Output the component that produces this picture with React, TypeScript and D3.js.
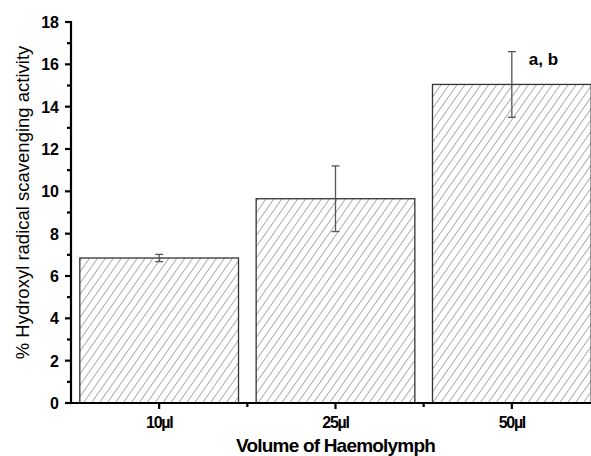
import React from "react";
import * as d3 from "d3";

const categories = ["10µl", "25µl", "50µl"];
const values = [6.85, 9.65, 15.05];
const errors = [0.17, 1.55, 1.55];
const yTicks = [0, 2, 4, 6, 8, 10, 12, 14, 16, 18];
const annotations = ["", "", "a, b"];

export default function App() {
  const W = 591, H = 456;
  const left = 71, right = 600, top = 22, bottom = 403;
  const x = d3.scaleBand<string>().domain(categories).range([left, right]).paddingInner(0.1).paddingOuter(0.05);
  const y = d3.scaleLinear().domain([0, 18]).range([bottom, top]);
  const minor = d3.range(1, 18, 2);
  const step = x.step();
  const boundaries = categories.slice(1).map((c) => (x(c) as number) - step * 0.1 / 2);
  const font = "'Liberation Sans', Arial, sans-serif";
  return (
    <svg width={W} height={H} style={{ position: "absolute", left: 0, top: 0, background: "#fff" }}>
      <defs>
        <pattern id="hatch" width="6.5" height="10" patternUnits="userSpaceOnUse" patternTransform="rotate(35)">
          <rect width="6.5" height="10" fill="#fff" />
          <line x1="0" y1="0" x2="0" y2="10" stroke="#444" strokeWidth="0.9" />
        </pattern>
      </defs>
      <rect x={0} y={0} width={W} height={H} fill="#fff" />
      {categories.map((c, i) => (
        <rect key={c} x={x(c)} y={y(values[i])} width={x.bandwidth()} height={bottom - y(values[i])}
          fill="url(#hatch)" stroke="#333" strokeWidth={1.3} />
      ))}
      {categories.map((c, i) => {
        const cx = (x(c) as number) + x.bandwidth() / 2;
        const y1 = y(values[i] + errors[i]);
        const y2 = y(values[i] - errors[i]);
        return (
          <g key={"e" + c} stroke="#555" strokeWidth={1.3}>
            <line x1={cx} x2={cx} y1={y1} y2={y2} />
            <line x1={cx - 4} x2={cx + 4} y1={y1} y2={y1} />
            <line x1={cx - 4} x2={cx + 4} y1={y2} y2={y2} />
          </g>
        );
      })}
      {categories.map((c, i) => annotations[i] ? (
        <text key={"a" + c} x={(x(c) as number) + x.bandwidth() / 2 + 17} y={y(values[i] + errors[i]) + 13}
          fontFamily={font} fontWeight="bold" fontSize={17}>{annotations[i]}</text>
      ) : null)}
      {/* axes */}
      <line x1={left} x2={left} y1={top - 1} y2={bottom + 1} stroke="#000" strokeWidth={2.2} />
      <line x1={left - 1} x2={right} y1={bottom} y2={bottom} stroke="#000" strokeWidth={2.2} />
      {yTicks.map((t) => (
        <g key={"yt" + t}>
          <line x1={left - 6} x2={left} y1={y(t)} y2={y(t)} stroke="#000" strokeWidth={2.2} />
          <text x={left - 12} y={y(t) + 6} textAnchor="end" fontFamily={font} fontWeight="bold" fontSize={16}>{t}</text>
        </g>
      ))}
      {minor.map((t) => (
        <line key={"ym" + t} x1={left - 4} x2={left} y1={y(t)} y2={y(t)} stroke="#000" strokeWidth={2.2} />
      ))}
      {categories.map((c) => {
        const cx = (x(c) as number) + x.bandwidth() / 2;
        return (
          <g key={"xt" + c}>
            <line x1={cx} x2={cx} y1={bottom} y2={bottom + 6} stroke="#000" strokeWidth={2.2} />
            <text x={cx} y={bottom + 25} textAnchor="middle" fontFamily={font} fontWeight="bold" fontSize={16} letterSpacing={-1.3}>{c}</text>
          </g>
        );
      })}
      {boundaries.map((b, i) => (
        <line key={"xb" + i} x1={b} x2={b} y1={bottom} y2={bottom + 4} stroke="#000" strokeWidth={2.2} />
      ))}
      <text x={(left + right) / 2} y={452} textAnchor="middle" fontFamily={font} fontWeight="bold" fontSize={19} letterSpacing={-0.8}>Volume of Haemolymph</text>
      <text transform={`translate(29, ${(top + bottom) / 2 - 10}) rotate(-90)`} textAnchor="middle" fontFamily={font} fontSize={18.5}>% Hydroxyl radical scavenging activity</text>
    </svg>
  );
}
